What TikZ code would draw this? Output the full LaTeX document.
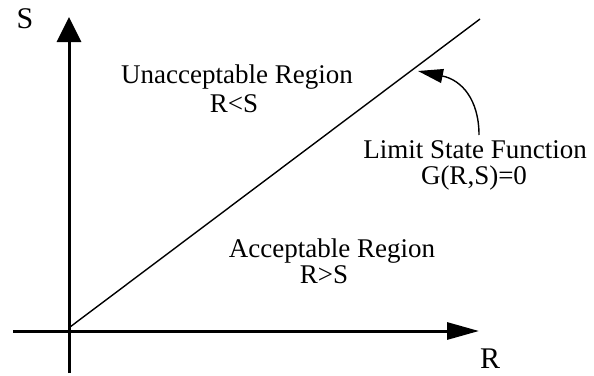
\documentclass[tikz,border=0pt]{standalone}
\usepackage{fontspec}
\setmainfont{Liberation Serif}
\usetikzlibrary{arrows.meta}
\begin{document}
\begin{tikzpicture}[x=1pt,y=-1pt,
  axis/.style={line width=3pt},
  thin line/.style={line width=1.4pt},
  lbl/.style={font=\fontsize{27}{31}\selectfont, inner sep=0pt, anchor=base},
  axlbl/.style={font=\fontsize{30}{34}\selectfont, inner sep=0pt, anchor=base}]
\useasboundingbox (0,0) rectangle (594,375);
% axes
\coordinate (xs) at (13,331);
\coordinate (xe) at (479,331);
\coordinate (ys) at (69,373);
\coordinate (ye) at (69,17);
\draw[axis, -{Triangle[length=32pt,width=17pt]}] (xs) -- (xe);
\draw[axis, -{Triangle[length=25pt,width=24pt]}] (ys) -- (ye);
% limit state line
\coordinate (ls) at (70,327);
\coordinate (le) at (480,19);
\draw[thin line] (ls) -- (le);
% axis labels
\node[axlbl] (S) at (25,28) {S};
\node[axlbl] (R) at (490,368) {R};
% region labels
\node[lbl] (un1) at (237,83) {Unacceptable Region};
\node[lbl] (un2) at (234,112) {R<S};
\node[lbl] (ac1) at (332,257) {Acceptable Region};
\node[lbl] (ac2) at (324,283) {R>S};
\node[lbl] (lf1) at (475,158) {Limit State Function};
\node[lbl] (lf2) at (474,184) {G(R,S)=0};
% curved pointer
\coordinate (cs) at (479,135);
\coordinate (ct) at (418,71);
\draw[thin line, -{Triangle[length=25pt,width=14pt]}] (cs) .. controls (479,100) and (462,80) .. (ct);
\end{tikzpicture}
\end{document}
